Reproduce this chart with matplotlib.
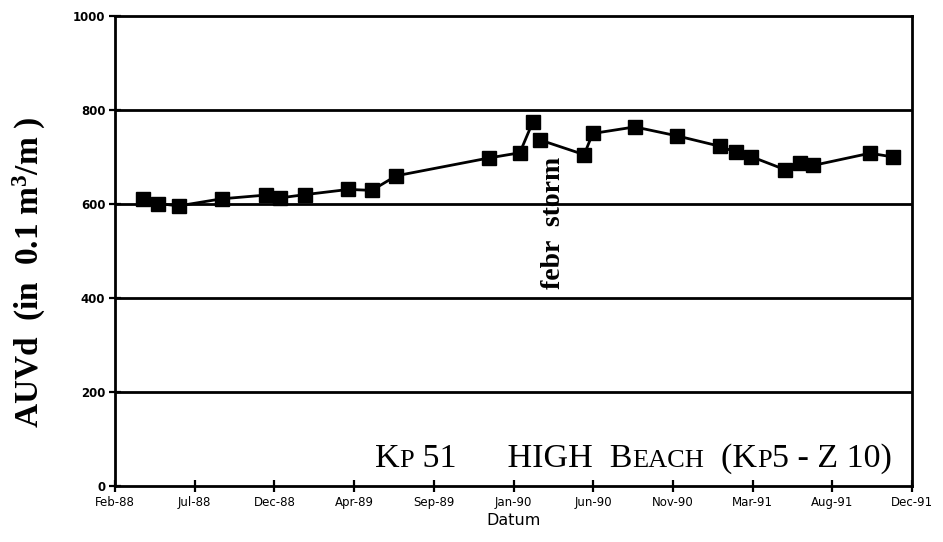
import pandas as pd
import matplotlib.pyplot as plt

DATES_BEFORE = ['1988-03-21', '1988-04-16', '1988-05-23', '1988-08-06', '1988-10-23',
                '1988-11-17', '1988-12-31', '1989-03-17', '1989-04-27', '1989-06-09',
                '1989-11-19', '1990-01-12', '1990-02-04']
VALUES_BEFORE = [610, 601, 596, 611, 619, 613, 620, 631, 629, 660, 698, 709, 775]

DATES_AFTER = ['1990-02-17', '1990-05-05', '1990-05-20', '1990-08-02', '1990-10-15',
               '1990-12-29', '1991-01-27', '1991-02-22', '1991-04-23', '1991-05-19',
               '1991-06-11', '1991-09-19', '1991-10-30']
VALUES_AFTER = [736, 705, 750, 764, 745, 723, 710, 701, 673, 687, 682, 708, 700]

TICK_LABELS = ['Feb-88', 'Jul-88', 'Dec-88', 'Apr-89', 'Sep-89', 'Jan-90',
               'Jun-90', 'Nov-90', 'Mar-91', 'Aug-91', 'Dec-91']
Y_TICKS = [0, 200, 400, 600, 800, 1000]

START = pd.Timestamp('1988-02-01')
STEP_DAYS = 140
SERIF = 'Liberation Serif'


def draw_title(fig, x_px, y_px, pieces):
    # small caps by hand: pieces of text with two sizes on one baseline
    renderer = fig.canvas.get_renderer()
    w, h = fig.bbox.width, fig.bbox.height
    for txt, size in pieces:
        t = fig.text(x_px / w, y_px / h, txt, fontsize=size, family=SERIF,
                     ha='left', va='baseline')
        x_px += t.get_window_extent(renderer).width


def main():
    fig = plt.figure(figsize=(9.43, 5.42), dpi=100)
    ax = fig.add_axes([0.1220, 0.1033, 0.8452, 0.8672])

    for dates, values in [(DATES_BEFORE, VALUES_BEFORE), (DATES_AFTER, VALUES_AFTER)]:
        ax.plot(pd.to_datetime(dates), values, color='black', lw=2,
                marker='s', markersize=9.5, markerfacecolor='black', markeredgecolor='black')

    for y in Y_TICKS[1:-1]:
        ax.axhline(y, color='black', lw=2, zorder=0)

    ticks = [START + pd.Timedelta(days=STEP_DAYS * i) for i in range(len(TICK_LABELS))]
    ax.set_xticks(ticks)
    ax.set_xticklabels(TICK_LABELS, fontsize=8.5)
    ax.set_xlim(ticks[0], ticks[-1])
    ax.set_ylim(0, 1000)
    ax.set_yticks(Y_TICKS)
    ax.set_yticklabels([str(v) for v in Y_TICKS], fontsize=8.5, fontweight='bold')
    ax.tick_params(direction='inout', length=8, width=1.6, pad=3)

    for spine in ax.spines.values():
        spine.set_linewidth(2)

    ax.set_xlabel('Datum', fontsize=11.5, labelpad=3)
    ax.set_ylabel('AUVd  (in  0.1 m$\\mathregular{^3}$/m )', fontsize=24,
                  family=SERIF, fontweight='bold', va='center')
    ax.yaxis.set_label_coords(-0.108, 0.455)

    ax.text(pd.Timestamp('1990-03-12'), 700, 'febr  storm', rotation=90,
            ha='center', va='top', fontsize=20, family=SERIF, fontweight='bold')

    draw_title(fig, 375, 542 - 467,
               [('K', 24.5), ('P', 19), (' 51      HIGH  B', 24.5), ('EACH', 19),
                ('  (K', 24.5), ('P', 19), ('5 - Z 10)', 24.5)])

    fig.savefig('out.png', dpi=100)


if __name__ == '__main__':
    main()
